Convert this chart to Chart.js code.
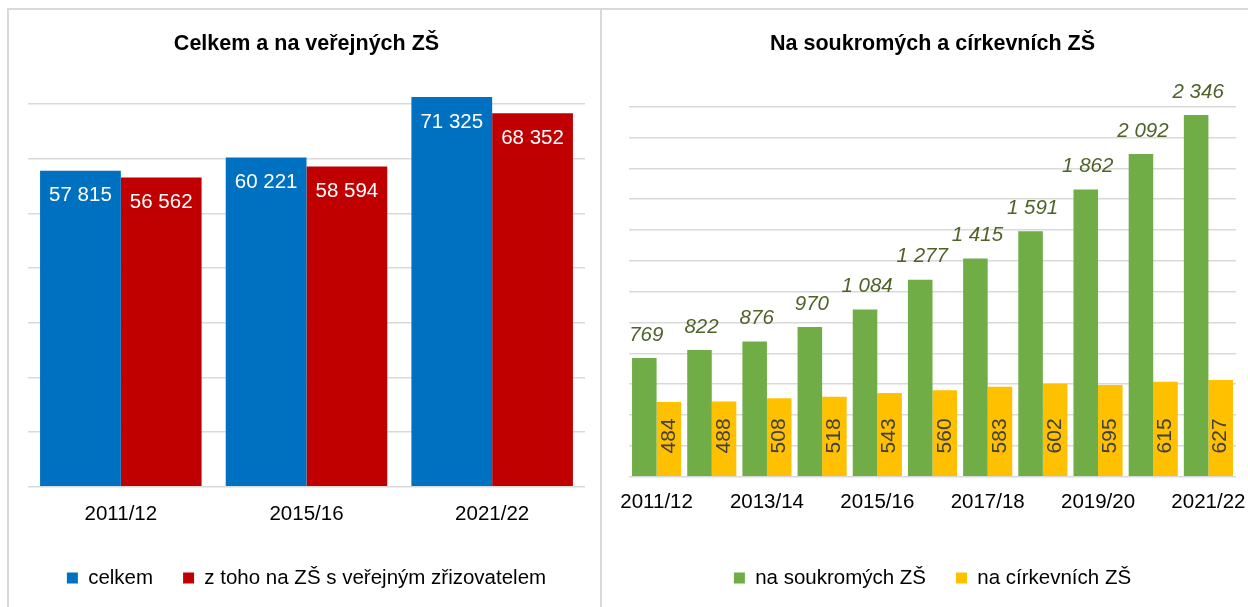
<!DOCTYPE html>
<html lang="cs">
<head>
<meta charset="utf-8">
<title>Žáci na ZŠ</title>
<script src="https://cdn.jsdelivr.net/npm/chart.js@4.4.1/dist/chart.umd.min.js"></script>
<style>
  html, body { margin: 0; padding: 0; background: #fff; overflow: hidden; }
  body { width: 1248px; height: 607px; position: relative; }
  .panel { position: absolute; top: 8px; height: 700px; box-sizing: border-box; border: 2px solid #d9d9d9; }
  #leftPanel { left: 7px; width: 595px; }
  #rightPanel { left: 600px; width: 700px; }
  canvas { position: absolute; top: 11px; }
  #publicChart { left: 10px; }
  #privateChart { left: 603px; }
</style>
</head>
<body>
<div class="panel" id="leftPanel"></div>
<div class="panel" id="rightPanel"></div>
<canvas id="publicChart" width="590" height="596"></canvas>
<canvas id="privateChart" width="645" height="596"></canvas>

<script>
// levý graf - celkem a veřejné ZŠ
const publicYears = ['2011/12', '2015/16', '2021/22'];
const totalPupils = [57815, 60221, 71325];
const publicPupils = [56562, 58594, 68352];

// pravý graf - soukromé a církevní ZŠ
const privateYears = ['2011/12', '2012/13', '2013/14', '2014/15', '2015/16', '2016/17',
    '2017/18', '2018/19', '2019/20', '2020/21', '2021/22'];
const privatePupils = [769, 822, 876, 970, 1084, 1277, 1415, 1591, 1862, 2092, 2346];
const churchPupils = [484, 488, 508, 518, 543, 560, 583, 602, 595, 615, 627];

const FONT = 'Arial, "Liberation Sans", sans-serif';
const GRID = '#d9d9d9';

// 57815 -> "57 815"
function fmt(v) {
    return String(v).replace(/\B(?=(\d{3})+(?!\d))/g, ' ');
}

// popisky hodnot u sloupců (datalabels plugin tu není)
const barLabels = {
    id: 'barLabels',
    afterDatasetsDraw(chart, args, opts) {
        const ctx = chart.ctx;
        chart.data.datasets.forEach((ds, i) => {
            const st = opts.styles[i];
            if (!st) return;
            chart.getDatasetMeta(i).data.forEach((bar, j) => {
                const text = fmt(ds.data[j]);
                ctx.save();
                ctx.font = st.font;
                ctx.fillStyle = st.color;
                ctx.textAlign = 'center';
                ctx.textBaseline = 'middle';
                if (st.pos === 'insideTop') {
                    ctx.fillText(text, bar.x, bar.y + st.offset);
                } else if (st.pos === 'above') {
                    ctx.fillText(text, bar.x + (st.dx || 0), bar.y - st.offset);
                } else if (st.pos === 'base') {
                    ctx.translate(bar.x, bar.base - st.offset);
                    ctx.rotate(-Math.PI / 2);
                    ctx.fillText(text, 0, 0);
                }
                ctx.restore();
            });
        });
    }
};

function baseOptions(titleText, titleBottom, yMax, yStep, tickPad, extraAxis, padLeft, padRight) {
    return {
        responsive: false,
        animation: false,
        layout: { padding: { left: padLeft, right: padRight, top: 0, bottom: 8.75 } },
        scales: {
            x: {
                grid: { display: false, drawTicks: false },
                border: { display: false },
                ticks: {
                    color: '#000',
                    font: { family: FONT, size: 20.5, lineHeight: 1.2 },
                    padding: tickPad,
                    maxRotation: 0,
                    autoSkip: false
                },
                afterFit(scale) {
                    scale.height += extraAxis;
                    // krajní popisky smí přesahovat, okraje řídí layout.padding
                    scale.paddingLeft = 0;
                    scale.paddingRight = 0;
                }
            },
            y: {
                min: 0,
                max: yMax,
                ticks: { display: false },
                // mřížka jen po celých krocích
                afterBuildTicks(scale) {
                    const t = [];
                    for (let v = 0; v <= yMax; v += yStep) t.push({ value: v });
                    scale.ticks = t;
                },
                border: { display: false },
                grid: { drawTicks: false, lineWidth: 1.5, color: GRID }
            }
        },
        plugins: {
            tooltip: { enabled: false },
            title: {
                display: true,
                text: titleText,
                color: '#000',
                font: { family: FONT, size: 21.5, weight: 'bold', lineHeight: 1.2 },
                padding: { top: 20.4, bottom: titleBottom }
            },
            legend: {
                position: 'bottom',
                labels: {
                    boxWidth: 11,
                    boxHeight: 11,
                    padding: 30,
                    color: '#000',
                    font: { family: FONT, size: 20.5, lineHeight: 1.2 }
                }
            }
        }
    };
}

// levý graf
const leftOpts = baseOptions('Celkem a na veřejných ZŠ', 36, 72000, 10000, 15.5, -4.5, 18, 15);
leftOpts.plugins.barLabels = {
    styles: [
        { pos: 'insideTop', offset: 25, color: '#fff', font: '20.5px ' + FONT },
        { pos: 'insideTop', offset: 25, color: '#fff', font: '20.5px ' + FONT }
    ]
};
new Chart(document.getElementById('publicChart'), {
    type: 'bar',
    data: {
        labels: publicYears,
        datasets: [{
            label: 'celkem',
            data: totalPupils,
            backgroundColor: '#0070c0',
            categoryPercentage: 0.87,
            barPercentage: 1.0
        }, {
            label: 'z toho na ZŠ s veřejným zřizovatelem',
            data: publicPupils,
            backgroundColor: '#c00000',
            categoryPercentage: 0.87,
            barPercentage: 1.0
        }]
    },
    options: leftOpts,
    plugins: [barLabels]
});

// pravý graf
const rightOpts = baseOptions('Na soukromých a církevních ZŠ', 49.4, 2400, 200, 13, 10.5, 26, 12);
rightOpts.scales.x.ticks.callback = (v, i) => (i % 2 === 0 ? privateYears[i] : '');
rightOpts.plugins.barLabels = {
    styles: [
        { pos: 'above', offset: 23, dx: 2, color: '#4f6228', font: 'italic 20.5px ' + FONT },
        { pos: 'base', offset: 40, color: '#404040', font: '21px ' + FONT }
    ]
};
new Chart(document.getElementById('privateChart'), {
    type: 'bar',
    data: {
        labels: privateYears,
        datasets: [{
            label: 'na soukromých ZŠ',
            data: privatePupils,
            backgroundColor: '#70ad47',
            categoryPercentage: 0.89,
            barPercentage: 1.0
        }, {
            label: 'na církevních ZŠ',
            data: churchPupils,
            backgroundColor: '#ffc000',
            categoryPercentage: 0.89,
            barPercentage: 1.0
        }]
    },
    options: rightOpts,
    plugins: [barLabels]
});
</script>
</body>
</html>
